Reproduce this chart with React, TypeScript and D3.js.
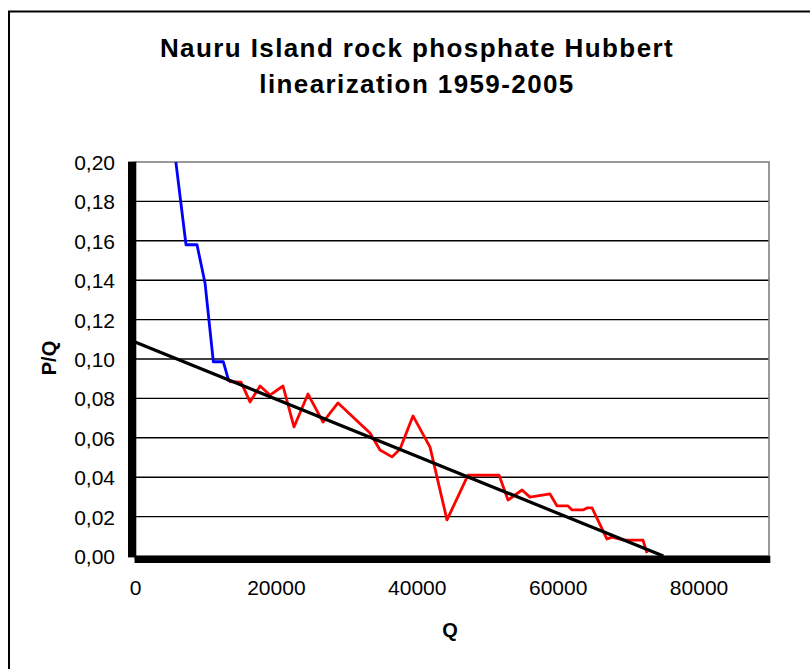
import { useEffect, useRef } from "react";
import * as d3 from "d3";

const titleLines = ["Nauru Island rock phosphate Hubbert", "linearization 1959-2005"];

// early years (blue), cumulative production Q vs P/Q
const earlyQ = [5800, 7240, 8800, 9940, 11120, 12540, 13340];
const earlyPQ = [0.2, 0.158, 0.158, 0.1386, 0.0986, 0.0986, 0.0885];

// later years (red)
const laterQ = [
  13340, 15050, 16330, 17750, 19160, 21010, 22570, 24560, 26690, 28820,
  33360, 34780, 36480, 37620, 39460, 41880, 44290, 47270, 51670, 52950,
  54940, 56070, 58910, 59910, 61470, 62040, 63600, 64170, 64880, 67000,
  67710, 69420, 72110, 72680,
];
const laterPQ = [
  0.0885, 0.0883, 0.0782, 0.0863, 0.0817, 0.0863, 0.0655, 0.0822, 0.068, 0.0777,
  0.0624, 0.0538, 0.0503, 0.0543, 0.0711, 0.0553, 0.0183, 0.0411, 0.0411, 0.0284,
  0.0335, 0.0299, 0.0315, 0.0254, 0.0254, 0.0234, 0.0234, 0.0244, 0.0244, 0.0086,
  0.0096, 0.0081, 0.0081, 0.0015,
];

// linear fit
const fitQ = [0, 75000];
const fitPQ = [0.1086, 0];

const yTicks = [0, 0.02, 0.04, 0.06, 0.08, 0.1, 0.12, 0.14, 0.16, 0.18, 0.2];
const xTicks = [0, 20000, 40000, 60000, 80000];

const FONT = "'Liberation Sans', Arial, sans-serif";

export default function App() {
  const svgRef = useRef<SVGSVGElement>(null);

  useEffect(() => {
    if (!svgRef.current) return;
    const svg = d3.select(svgRef.current);
    svg.selectAll("*").remove();

    const W = 810;
    const H = 669;
    const margin = { top: 162, right: 41, bottom: 113, left: 135 };

    const x = d3.scaleLinear().domain([0, 90000]).range([margin.left, W - margin.right]);
    const y = d3.scaleLinear().domain([0, 0.2]).range([H - margin.bottom, margin.top]);

    // outer chart frame (cut off right and bottom)
    svg
      .append("rect")
      .attr("x", 9)
      .attr("y", 11.5)
      .attr("width", 830)
      .attr("height", 690)
      .attr("fill", "none")
      .attr("stroke", "#000")
      .attr("stroke-width", 2);

    // title
    const title = svg
      .append("text")
      .attr("text-anchor", "middle")
      .style("font-family", FONT)
      .style("font-weight", "bold")
      .style("font-size", "26px")
      .style("letter-spacing", "1.4px");
    titleLines.forEach((t, i) => {
      title
        .append("tspan")
        .attr("x", 417)
        .attr("y", 57 + i * 36)
        .text(t);
    });

    // horizontal grid
    svg
      .append("g")
      .selectAll("line")
      .data(yTicks.filter((d) => d > 0 && d < 0.2))
      .enter()
      .append("line")
      .attr("x1", x(0))
      .attr("x2", x(90000))
      .attr("y1", (d) => y(d))
      .attr("y2", (d) => y(d))
      .attr("stroke", "#000")
      .attr("stroke-width", 1.4);

    // plot area border
    svg
      .append("rect")
      .attr("x", x(0))
      .attr("y", y(0.2))
      .attr("width", x(90000) - x(0))
      .attr("height", y(0) - y(0.2))
      .attr("fill", "none")
      .attr("stroke", "#808080")
      .attr("stroke-width", 1.6);

    const fontTicks = (g: any) =>
      g.style("font-family", FONT).style("font-size", "21px").attr("fill", "#000");

    // y axis
    svg
      .append("g")
      .attr("transform", `translate(${x(0)},0)`)
      .call(
        d3
          .axisLeft(y)
          .tickValues(yTicks)
          .tickSize(7)
          .tickPadding(13)
          .tickFormat((d) => d3.format(".2f")(d as number).replace(".", ","))
      )
      .call(fontTicks)
      .call((g) => g.select(".domain").attr("stroke", "#000").attr("stroke-width", 1.6))
      .call((g) => g.selectAll(".tick line").attr("stroke", "#000").attr("stroke-width", 1.4))
      .call((g) => g.selectAll(".tick text").attr("fill", "#000").attr("dy", "0.36em"));

    // x minor ticks
    svg
      .append("g")
      .attr("transform", `translate(0,${y(0)})`)
      .call(d3.axisBottom(x).tickValues(d3.range(0, 90000, 4000)).tickSize(4).tickFormat(() => ""))
      .call((g) => g.select(".domain").remove())
      .call((g) => g.selectAll(".tick line").attr("stroke", "#000").attr("stroke-width", 1.4));

    // x axis
    svg
      .append("g")
      .attr("transform", `translate(0,${y(0)})`)
      .call(d3.axisBottom(x).tickValues(xTicks).tickSize(7).tickPadding(17).tickFormat(d3.format("d")))
      .call(fontTicks)
      .call((g) => g.select(".domain").attr("stroke", "#000").attr("stroke-width", 1.6))
      .call((g) => g.selectAll(".tick line").attr("stroke", "#000").attr("stroke-width", 1.4))
      .call((g) => g.selectAll(".tick text").attr("fill", "#000"));

    // axis titles
    svg
      .append("text")
      .attr("transform", `translate(56,358) rotate(-90)`)
      .attr("text-anchor", "middle")
      .style("font-family", FONT)
      .style("font-weight", "bold")
      .style("font-size", "20px")
      .text("P/Q");

    svg
      .append("text")
      .attr("x", 450)
      .attr("y", 637)
      .attr("text-anchor", "middle")
      .style("font-family", FONT)
      .style("font-weight", "bold")
      .style("font-size", "20px")
      .text("Q");

    const drawSeries = (qs: number[], vs: number[], color: string, width: number) => {
      svg
        .append("path")
        .datum(qs.map((q, i) => [q, vs[i]] as [number, number]))
        .attr("fill", "none")
        .attr("stroke", color)
        .attr("stroke-width", width)
        .attr("stroke-linejoin", "round")
        .attr(
          "d",
          d3
            .line<[number, number]>()
            .x((d) => x(d[0]))
            .y((d) => y(d[1]))
        );
    };

    drawSeries(earlyQ, earlyPQ, "#0000FF", 2.8);
    drawSeries(laterQ, laterPQ, "#FF0000", 2.8);
    drawSeries(fitQ, fitPQ, "#000000", 3.2);
  }, []);

  return (
    <svg
      ref={svgRef}
      width={810}
      height={669}
      style={{ position: "absolute", left: 0, top: 0, background: "#fff" }}
    />
  );
}
